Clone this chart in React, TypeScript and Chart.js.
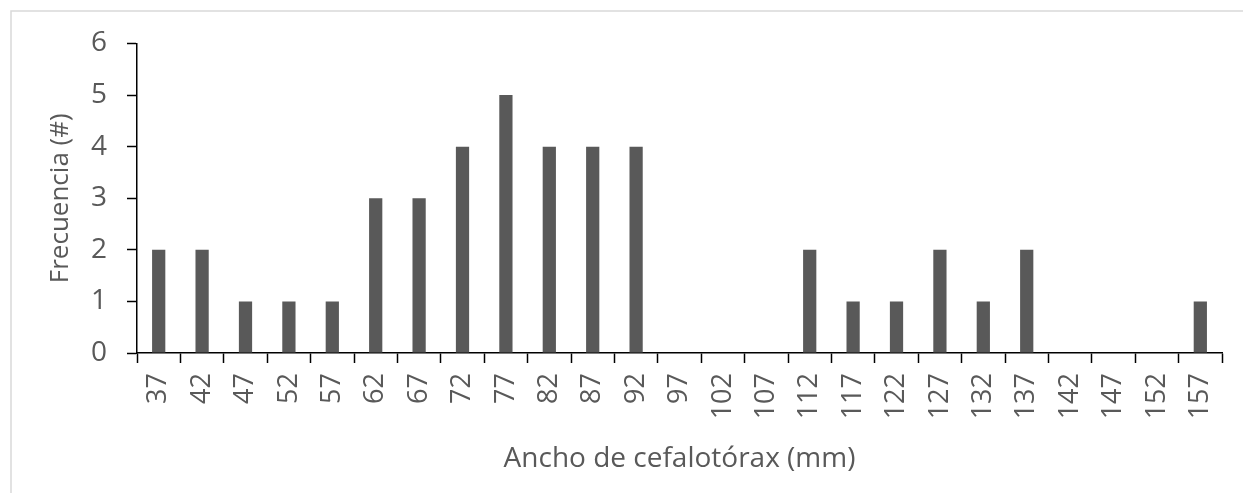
import React, { useEffect, useRef } from "react";
import { Chart, registerables } from "chart.js";

Chart.register(...registerables);

const categories = ["37","42","47","52","57","62","67","72","77","82","87","92","97","102","107","112","117","122","127","132","137","142","147","152","157"];
const frequencies = [2,2,1,1,1,3,3,4,5,4,4,4,0,0,0,2,1,1,2,1,2,0,0,0,1];
const yTitle = "Frecuencia (#)";
const xTitle = "Ancho de cefalotórax (mm)";

const W = 1243;
const H = 493;
const FONT = "'Open Sans', sans-serif";
const TEXT = "#595959";

const borderPlugin = {
  id: "outerBorder",
  beforeDraw(chart: any) {
    const ctx = chart.ctx;
    ctx.save();
    ctx.strokeStyle = "#d9d9d9";
    ctx.lineWidth = 1.5;
    ctx.strokeRect(11, 11, 1400, 700);
    ctx.restore();
  },
};

export default function App() {
  const ref = useRef<HTMLCanvasElement | null>(null);
  useEffect(() => {
    if (!ref.current) return;
    const chart = new Chart(ref.current, {
      type: "bar",
      data: {
        labels: categories,
        datasets: [
          {
            data: frequencies,
            backgroundColor: "#595959",
            borderWidth: 0,
            barPercentage: 0.305,
            categoryPercentage: 1,
          },
        ],
      },
      options: {
        animation: false,
        responsive: false,
        devicePixelRatio: 1,
        layout: { padding: { top: 43.5, right: 14, left: 0, bottom: 0 } },
        plugins: { legend: { display: false }, tooltip: { enabled: false } },
        scales: {
          x: {
            afterFit(scale: any) {
              scale.height = H - 353;
            },
            grid: {
              drawOnChartArea: false,
              drawTicks: true,
              tickLength: 10,
              tickColor: "#000",
              tickWidth: 1.5,
              offset: true,
            },
            border: { color: "#000", width: 1.5 },
            ticks: {
              maxRotation: 90,
              minRotation: 90,
              padding: 10,
              color: TEXT,
              font: { family: FONT, size: 27 },
              autoSkip: false,
            },
            title: {
              display: true,
              text: xTitle,
              color: TEXT,
              font: { family: FONT, size: 28 },
              padding: { top: 0, bottom: 17 },
            },
          },
          y: {
            min: 0,
            max: 6,
            afterFit(scale: any) {
              scale.width = 137;
            },
            grid: {
              drawOnChartArea: false,
              drawTicks: true,
              tickLength: 10,
              tickColor: "#000",
              tickWidth: 1.5,
            },
            border: { color: "#000", width: 1.5 },
            ticks: {
              stepSize: 1,
              padding: 20,
              color: TEXT,
              font: { family: FONT, size: 28 },
            },
            title: {
              display: true,
              text: yTitle,
              color: TEXT,
              font: { family: FONT, size: 26 },
              padding: { top: 45, bottom: 0 },
            },
          },
        },
      },
      plugins: [borderPlugin],
    });
    return () => chart.destroy();
  }, []);
  return (
    <div style={{ position: "fixed", left: 0, top: 0, width: W, height: H, background: "#fff" }}>
      <canvas ref={ref} width={W} height={H} style={{ width: W, height: H, display: "block" }} />
    </div>
  );
}
